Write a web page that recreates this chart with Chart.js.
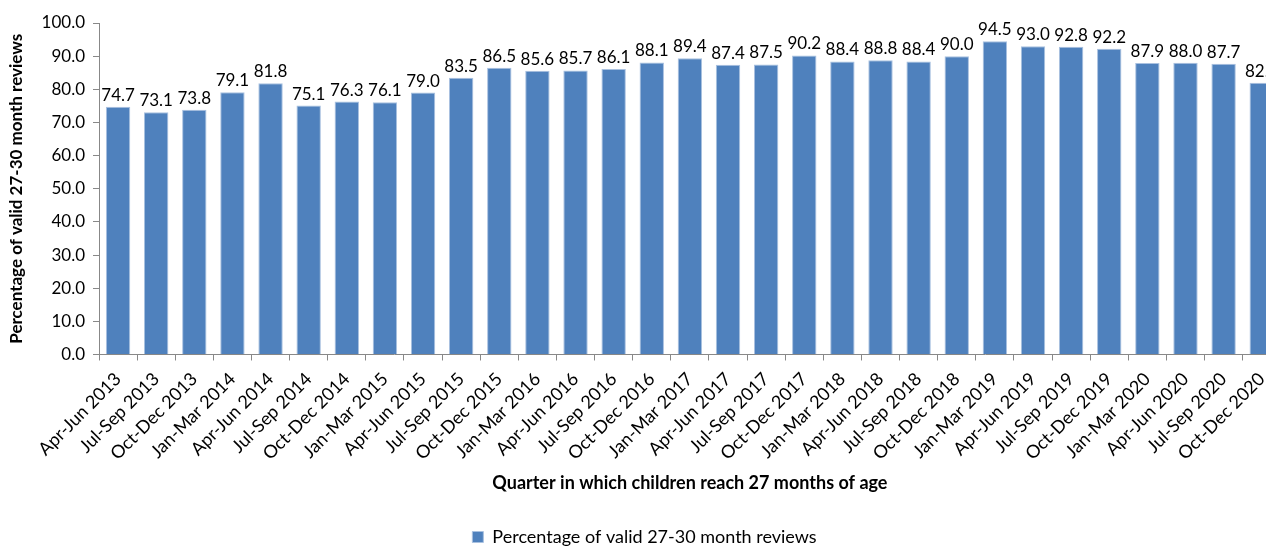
<!DOCTYPE html>
<html>
<head>
<meta charset="utf-8">
<script src="https://cdn.jsdelivr.net/npm/chart.js@4"></script>
<style>
  html, body { margin: 0; padding: 0; background: #fff; overflow: hidden; }
  #wrap { width: 1285px; height: 546px; }
</style>
</head>
<body>
<div id="wrap"><canvas id="chart"></canvas></div>
<script>
const quarters = [
  "Apr-Jun 2013", "Jul-Sep 2013", "Oct-Dec 2013",
  "Jan-Mar 2014", "Apr-Jun 2014", "Jul-Sep 2014", "Oct-Dec 2014",
  "Jan-Mar 2015", "Apr-Jun 2015", "Jul-Sep 2015", "Oct-Dec 2015",
  "Jan-Mar 2016", "Apr-Jun 2016", "Jul-Sep 2016", "Oct-Dec 2016",
  "Jan-Mar 2017", "Apr-Jun 2017", "Jul-Sep 2017", "Oct-Dec 2017",
  "Jan-Mar 2018", "Apr-Jun 2018", "Jul-Sep 2018", "Oct-Dec 2018",
  "Jan-Mar 2019", "Apr-Jun 2019", "Jul-Sep 2019", "Oct-Dec 2019",
  "Jan-Mar 2020", "Apr-Jun 2020", "Jul-Sep 2020", "Oct-Dec 2020"
];
const validReviews = [
  74.7, 73.1, 73.8,
  79.1, 81.8, 75.1, 76.3,
  76.1, 79.0, 83.5, 86.5,
  85.6, 85.7, 86.1, 88.1,
  89.4, 87.4, 87.5, 90.2,
  88.4, 88.8, 88.4, 90.0,
  94.5, 93.0, 92.8, 92.2,
  87.9, 88.0, 87.7, 82.0
];
const seriesLabel = "Percentage of valid 27-30 month reviews";
const xTitle = "Quarter in which children reach 27 months of age";

const fontFamily = "Lato, 'Open Sans', sans-serif";

// draws the value above every bar
const barValues = {
  id: "barValues",
  afterDatasetsDraw(chart) {
    const ctx = chart.ctx;
    ctx.save();
    ctx.font = "17px " + fontFamily;
    ctx.fillStyle = "#000";
    ctx.textAlign = "center";
    ctx.textBaseline = "bottom";
    chart.getDatasetMeta(0).data.forEach((bar, i) => {
      ctx.fillText(validReviews[i].toFixed(1), bar.x, bar.y - 3);
    });
    ctx.restore();
  }
};

new Chart(document.getElementById("chart"), {
  type: "bar",
  data: {
    labels: quarters,
    datasets: [{
      label: seriesLabel,
      data: validReviews,
      backgroundColor: "#4F81BD",
      borderColor: "#A9C1E0",
      borderWidth: 1,
      categoryPercentage: 0.64,
      barPercentage: 1
    }]
  },
  options: {
    responsive: true,
    maintainAspectRatio: false,
    animation: false,
    layout: { padding: { top: 23, right: 0, bottom: -10, left: 4 } },
    plugins: {
      legend: {
        position: "bottom",
        labels: {
          color: "#000",
          font: { family: fontFamily, size: 18 },
          boxWidth: 11,
          boxHeight: 11,
          padding: 2
        }
      },
      tooltip: { enabled: false }
    },
    scales: {
      x: {
        grid: { offset: true, drawOnChartArea: false, drawTicks: true, tickLength: 6, color: "#888" },
        border: { color: "#888" },
        ticks: { color: "#000", font: { family: fontFamily, size: 18 }, maxRotation: 45, minRotation: 45, autoSkip: false, padding: 8 },
        title: { display: true, text: xTitle, color: "#000", font: { family: fontFamily, size: 18, weight: "bold" }, padding: { top: 0, bottom: 32 } }
      },
      y: {
        min: 0,
        max: 100,
        grid: { drawOnChartArea: false, drawTicks: true, tickLength: 6, color: "#888" },
        border: { color: "#888" },
        ticks: { stepSize: 10, color: "#000", font: { family: fontFamily, size: 17 }, padding: 8, callback: (v) => v.toFixed(1) },
        title: { display: true, text: seriesLabel, color: "#000", font: { family: fontFamily, size: 17, weight: "bold" }, padding: 2 },
        afterFit: (scale) => { scale.width = 95; }
      }
    }
  },
  plugins: [barValues]
});
</script>
</body>
</html>
